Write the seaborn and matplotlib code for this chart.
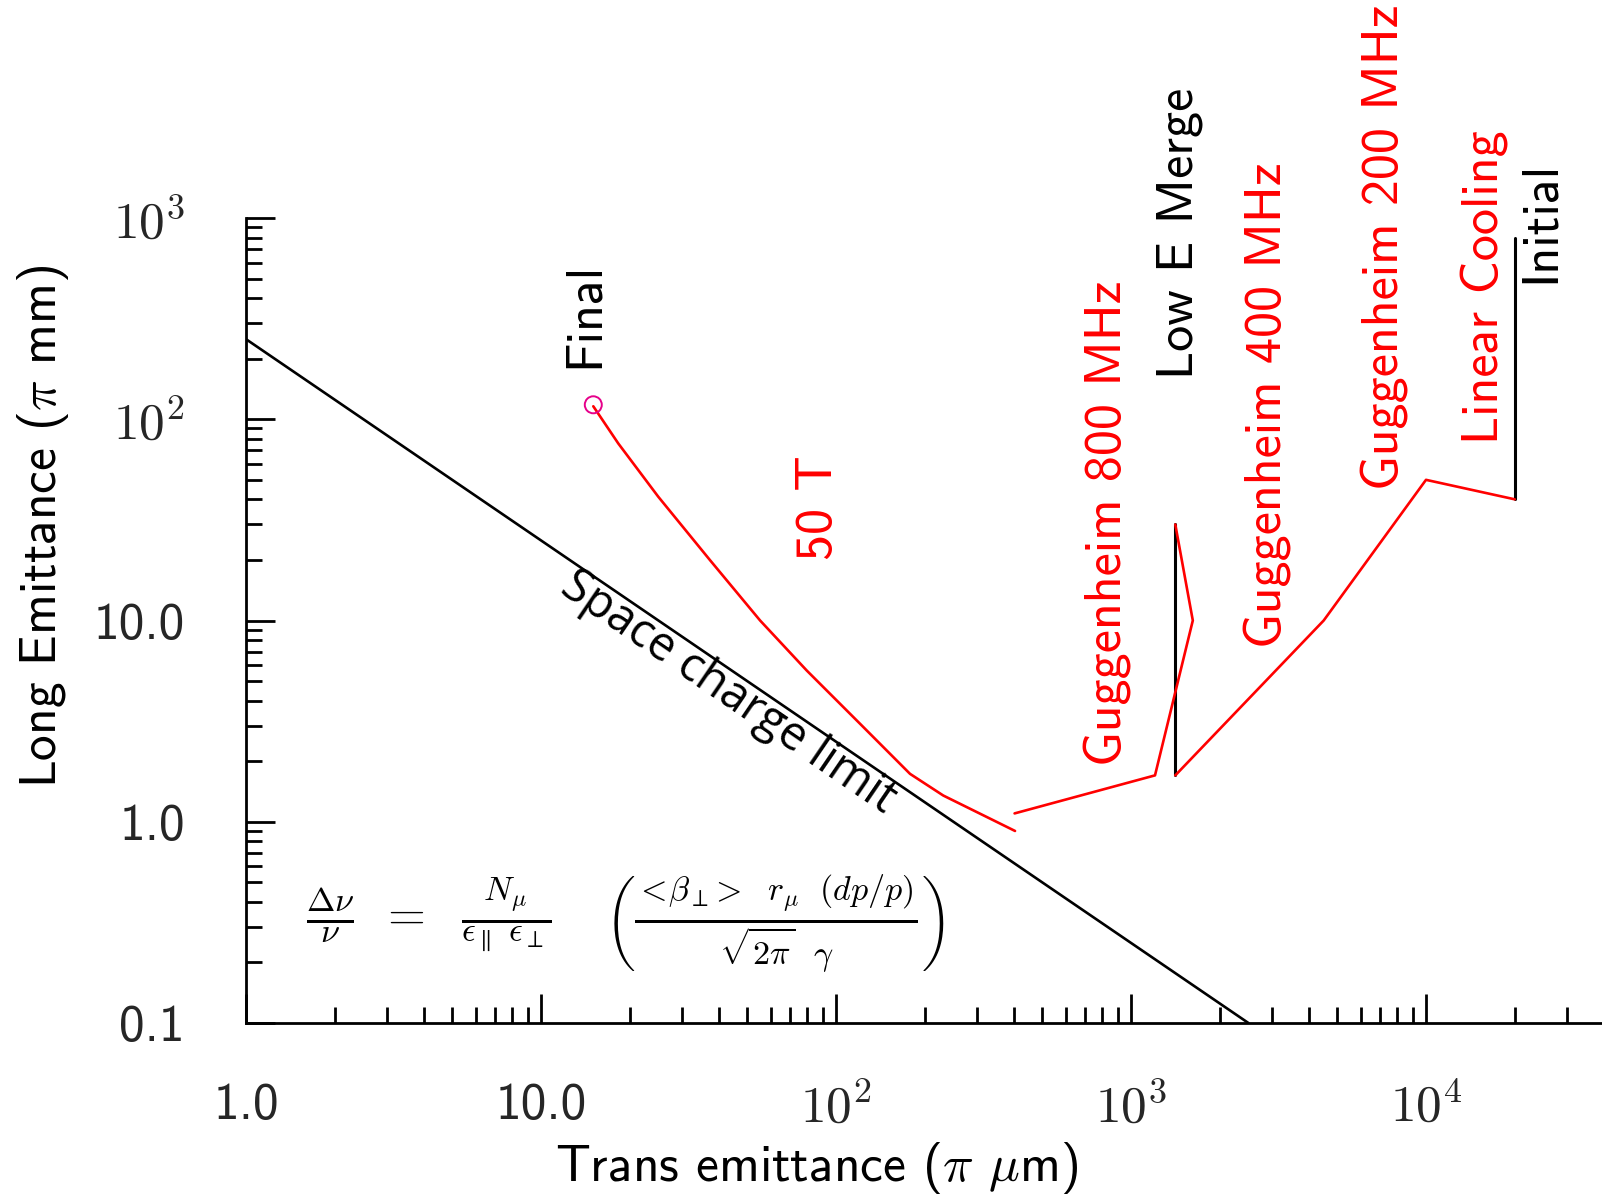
import matplotlib
matplotlib.use("Agg")
import matplotlib.pyplot as plt
import seaborn as sns
import numpy as np

# ---------------- data ----------------
space_x = [1.0, 2500.0]
space_y = [250.0, 0.1]

b50_x = [15.04, 18.28, 24.98, 37.4, 55.3, 79.6, 120.6, 178.2, 231.0, 404.5]
b50_y = [116.0, 75.8, 41.2, 19.95, 10.0, 5.64, 3.07, 1.73, 1.35, 0.90]

front_x = [20000.0, 10000.0, 4500.0, 1413.0]
front_y = [40.0, 50.0, 10.0, 1.70]

g800_x = [1413.0, 1620.0, 1206.0, 403.0]
g800_y = [30.0, 10.0, 1.70, 1.10]

merge_x = [1413.0, 1413.0]
merge_y = [1.70, 30.0]

initial_x = [20000.0, 20000.0]
initial_y = [40.0, 800.0]

final_x = [15.04]
final_y = [118.0]

x_ticks = [1, 10, 100, 1000, 10000]
x_ticklabels = ["1.0", "10.0", "$10^2$", "$10^3$", "$10^4$"]
y_ticks = [0.1, 1, 10, 100, 1000]
y_ticklabels = ["0.1", "1.0", "10.0", "$10^2$", "$10^3$"]

labels = ["Final", "50 T", "Guggenheim 800 MHz", "Low E Merge",
          "Guggenheim 400 MHz", "Guggenheim 200 MHz", "Linear Cooling", "Initial"]
label_x = [14.1, 87.9, 832.0, 1466.0, 2890.0, 7210.0, 15790.0, 24470.0]
label_y = [330.0, 36.2, 30.5, 840.0, 118.0, 718.0, 453.0, 955.0]
label_col = ["black", "red", "red", "black", "red", "red", "red", "black"]

# ---------------- style ----------------
sns.set_theme(style="white")
plt.rcParams["font.family"] = ["cmss10", "DejaVu Sans"]
plt.rcParams["mathtext.fontset"] = "cm"
plt.rcParams["axes.unicode_minus"] = False

fig = plt.figure(figsize=(16.02, 12.0), dpi=100)
L, B, T = 246 / 1602, 1 - 1023 / 1200, 1 - 218 / 1200
ax = fig.add_axes([L, B, 1 - L, T - B])
ax.set_xscale("log")
ax.set_yscale("log")
ax.set_xlim(1, 10 ** ((1602 - 246) / 295.0))
ax.set_ylim(0.1, 1000)

RED = "#ff0000"
sns.lineplot(x=space_x, y=space_y, sort=False, estimator=None, color="black", lw=1.9, ax=ax)
sns.lineplot(x=merge_x, y=merge_y, sort=False, estimator=None, color="black", lw=2.2, ax=ax)
sns.lineplot(x=initial_x, y=initial_y, sort=False, estimator=None, color="black", lw=2.2, ax=ax)
sns.lineplot(x=b50_x, y=b50_y, sort=False, estimator=None, color=RED, lw=1.9, ax=ax)
sns.lineplot(x=front_x, y=front_y, sort=False, estimator=None, color=RED, lw=1.9, ax=ax)
sns.lineplot(x=g800_x, y=g800_y, sort=False, estimator=None, color=RED, lw=1.9, ax=ax)
sns.scatterplot(x=final_x, y=final_y, s=150, facecolors="none", edgecolors="#e6008a",
                linewidths=1.4, ax=ax, zorder=5)

# spines / ticks
for s in ["top", "right"]:
    ax.spines[s].set_visible(False)
for s in ["left", "bottom"]:
    ax.spines[s].set_linewidth(2.0)
    ax.spines[s].set_color("black")
ax.tick_params(which="major", direction="in", length=21, width=2.0, color="black",
               labelsize=37, bottom=True, left=True, top=False, right=False)
ax.tick_params(which="minor", direction="in", length=11.5, width=2.0, color="black",
               bottom=True, left=True, top=False, right=False)
ax.tick_params(axis="x", which="major", pad=43)
ax.tick_params(axis="y", which="major", pad=44)
ax.set_xticks(x_ticks)
ax.set_xticklabels(x_ticklabels)
ax.set_yticks(y_ticks)
ax.set_yticklabels(y_ticklabels)
ax.xaxis.set_minor_locator(matplotlib.ticker.LogLocator(base=10, subs=np.arange(2, 10)))
ax.yaxis.set_minor_locator(matplotlib.ticker.LogLocator(base=10, subs=np.arange(2, 10)))
ax.xaxis.set_minor_formatter(matplotlib.ticker.NullFormatter())
ax.yaxis.set_minor_formatter(matplotlib.ticker.NullFormatter())
ax.grid(False)

ax.set_xlabel(r"Trans emittance ($\pi$ $\mu$m)", fontsize=37, color="black")
ax.set_ylabel(r"Long Emittance ($\pi$ mm)", fontsize=37, color="black")
ax.xaxis.set_label_coords((817 - 246) / 1356, (1023 - 1168) / 805)
ax.xaxis.label.set_va("center")
ax.yaxis.set_label_coords((43 - 246) / 1356, (1023 - 526) / 805)
ax.yaxis.label.set_va("center")

for t, x, y, c in zip(labels, label_x, label_y, label_col):
    ax.text(x, y, t, rotation=90, ha="center", va="center", color=c, fontsize=37.5)

# space charge label along the line
ang = -np.degrees(np.arctan(201.3 / 295.0))
ax.annotate("Space charge limit", xy=(43.2, 250.0 / 43.2), xytext=(-0.3, -17.5),
            textcoords="offset points", rotation=ang, rotation_mode="anchor",
            ha="center", va="center", fontsize=33.5, color="black",
            family=["Open Sans", "DejaVu Sans"])

formula = (r"$\frac{\Delta\nu}{\nu}\ \,=\ \ \frac{N_\mu}{\epsilon_\parallel\ \epsilon_\perp}"
           r"\quad\,\left(\frac{<\!\beta_\perp\!>\ \ r_\mu\ \ (dp/p)}{\sqrt{2\pi}\ \ \gamma}\right)$")
fig.text(306 / 1602, 1 - 931 / 1200, formula, ha="left", va="baseline", fontsize=35, color="black")

fig.savefig("out.png", dpi=100)
